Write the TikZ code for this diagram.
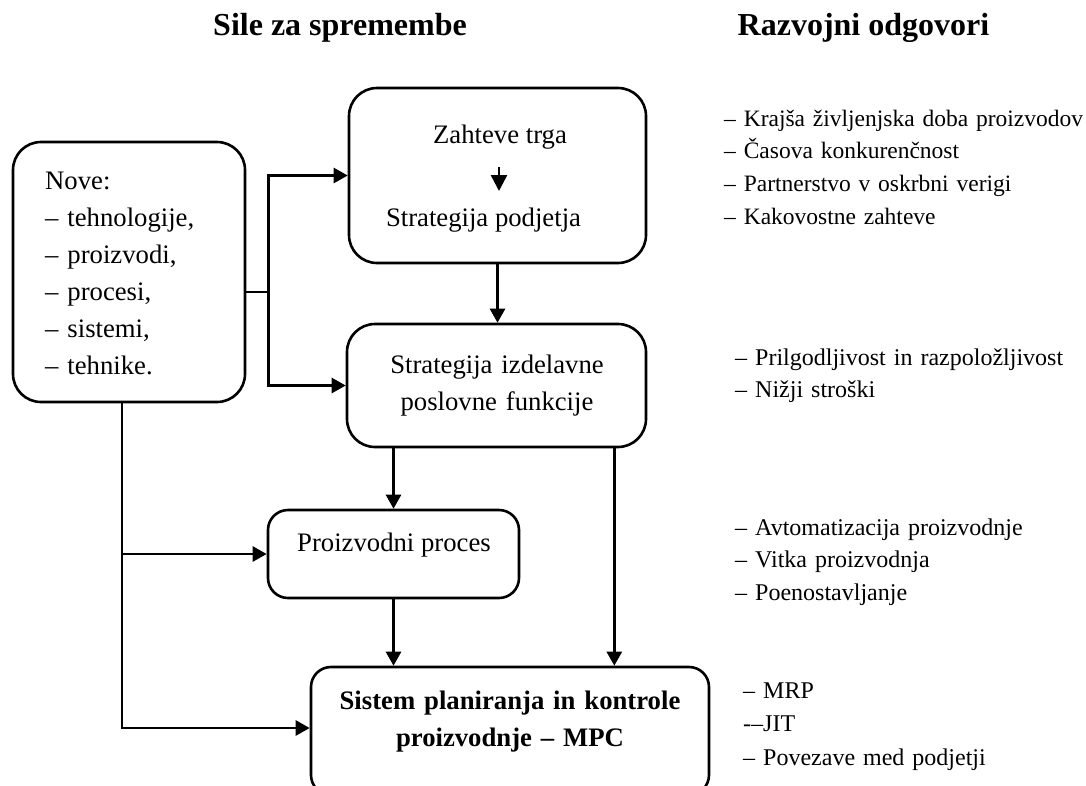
\documentclass[tikz,border=0pt]{standalone}
\usepackage{fontspec}
\setmainfont{Liberation Serif}
\usetikzlibrary{arrows.meta,calc}
\begin{document}
\begin{tikzpicture}[x=1pt,y=-1pt,
  box/.style={draw,line width=2.6pt,rounded corners=#1,inner sep=0pt},
  btxt/.style={inner sep=0pt,font=\fontsize{26.7}{37}\selectfont},
  rtxt/.style={inner sep=0pt,anchor=base west,text width=380pt,align=left,
    font=\fontsize{24}{32.8}\selectfont},
  ttl/.style={inner sep=0pt,anchor=base,font=\bfseries\fontsize{32}{38}\selectfont},
  wire/.style={line width=2.6pt},
  link/.style={line width=2.6pt,-{Triangle[length=14pt,width=15pt]}},
  minilink/.style={line width=2.6pt,-{Triangle[length=16pt,width=16pt]}}]
\useasboundingbox (0,0) rectangle (1086,785);

% column headings
\node[ttl] (t1) at (340,35) {Sile za spremembe};
\node[ttl] (t2) at (863.5,35) {Razvojni odgovori};

% boxes
\node[box=28pt,minimum width=232pt,minimum height=260pt] (L) at (129,272) {};
\node[box=28pt,minimum width=297pt,minimum height=175pt] (T) at (497.5,175.5) {};
\node[box=28pt,minimum width=299pt,minimum height=123pt] (S) at (496.5,385.5) {};
\node[box=20pt,minimum width=251pt,minimum height=88pt] (P) at (393.5,554) {};
\node[box=20pt,minimum width=398pt,minimum height=128pt] (M) at (510,731) {};

% box texts
\node[btxt,anchor=base west,text width=220pt,align=left] (Ltxt) at (45,189)
  {Nove:\\– tehnologije,\\– proizvodi,\\– procesi,\\– sistemi,\\– tehnike.};
\node[btxt,anchor=base] (zt) at (500,143) {Zahteve trga};
\node[btxt,anchor=base] (sp) at (483.5,226) {Strategija podjetja};
\draw[minilink] ($(zt.base)+(-1,24)$) -- ($(zt.base)+(-1,48)$);
\node[btxt,anchor=base,text width=290pt,align=center] (Stxt) at (497,373)
  {Strategija izdelavne\\poslovne funkcije};
\node[btxt,anchor=base] (Ptxt) at (394,551) {Proizvodni proces};
\node[btxt,font=\bfseries\fontsize{26.7}{37}\selectfont,anchor=base,
  text width=390pt,align=center] (Mtxt) at (510,709)
  {Sistem planiranja in kontrole\\proizvodnje – MPC};

% responses
\node[rtxt,font=\fontsize{23.5}{32.8}\selectfont] (r1) at (724,126) {– Krajša življenjska doba proizvodov\\– Časova konkurenčnost\\– Partnerstvo v oskrbni verigi\\– Kakovostne zahteve};
\node[rtxt] (r2) at (735,365) {– Prilgodljivost in razpoložljivost\\– Nižji stroški};
\node[rtxt] (r3) at (735,535) {– Avtomatizacija proizvodnje\\– Vitka proizvodnja\\– Poenostavljanje};
\node[rtxt,font=\fontsize{24}{33.5}\selectfont] (r4) at (743,698) {– MRP\\-\kern0pt–JIT\\– Povezave med podjetji};

% connectors
\coordinate (j) at ([xshift=22pt,yshift=-20pt]L.east);
\draw[wire] ([yshift=-20pt]L.east) -- (j);
\draw[link] (j) |- (T.west);
\draw[link] (j) |- (S.west);
\draw[link] (T.south) -- (T.south |- S.north);
\draw[link] (P.north |- S.south) -- (P.north);
\draw[link] ([xshift=-33pt]S.south east) -- ([xshift=-33pt]S.south east |- M.north);
\draw[link] (P.south) -- (P.south |- M.north);
\coordinate (k) at ([xshift=-7pt]L.south);
\draw[link] (k) |- ([yshift=3pt]M.west);
\draw[link] (k |- P.west) -- (P.west);
\end{tikzpicture}
\end{document}
